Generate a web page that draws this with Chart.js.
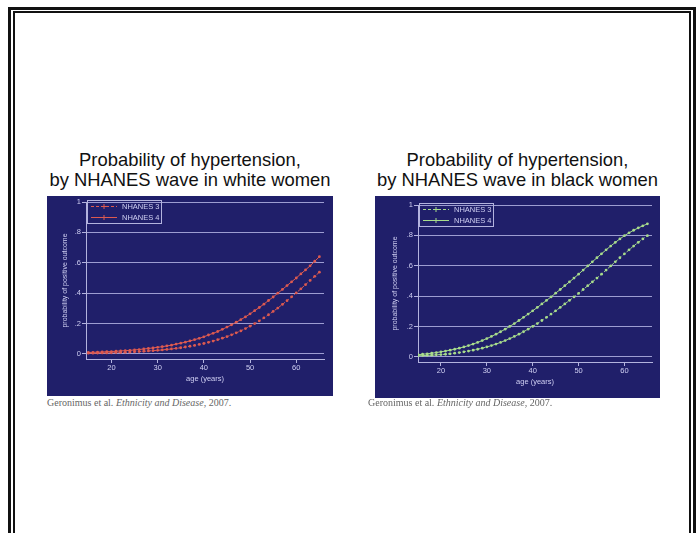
<!DOCTYPE html>
<html>
<head>
<meta charset="utf-8">
<script src="https://cdn.jsdelivr.net/npm/chart.js@4/dist/chart.umd.min.js"></script>
<style>
  body { margin: 0; width: 700px; height: 533px; background: #fff; overflow: hidden; position: relative; font-family: "Liberation Sans", Arial, sans-serif; }
  .frame-outer { position: absolute; left: 8px; top: 7px; width: 688px; height: 600px; border: 3px solid #111; box-sizing: border-box; }
  .frame-inner { position: absolute; left: 13px; top: 11px; width: 678px; height: 600px; border: 2px solid #111; box-sizing: border-box; }
  .title { position: absolute; top: 150px; font-size: 18.4px; line-height: 20px; color: #111; text-align: center; white-space: nowrap; }
  .panel { position: absolute; background: #201f6a; }
  .cite { position: absolute; top: 397px; font-family: "Liberation Serif", "Times New Roman", serif; font-size: 10px; color: #666; white-space: nowrap; }
</style>
</head>
<body>
<div class="frame-outer"></div>
<div class="frame-inner"></div>

<!-- left chart: white women -->
<div class="title" style="left:47px; width:286px;">Probability of hypertension,<br>by NHANES wave in white women</div>
<div class="panel" style="left:47px; top:196px; width:286px; height:200px;">
  <canvas id="chart-white" width="286" height="200"></canvas>
</div>
<div class="cite" style="left:47px;">Geronimus et al. <i>Ethnicity and Disease</i>, 2007.</div>

<!-- right chart: black women -->
<div class="title" style="left:375px; width:285px;">Probability of hypertension,<br>by NHANES wave in black women</div>
<div class="panel" style="left:375px; top:196px; width:285px; height:202px;">
  <canvas id="chart-black" width="285" height="202"></canvas>
</div>
<div class="cite" style="left:368px;">Geronimus et al. <i>Ethnicity and Disease</i>, 2007.</div>

<script>
  // ages 15..65, one point per year
  const ages = [15, 16, 17, 18, 19, 20, 21, 22, 23, 24,
    25, 26, 27, 28, 29, 30, 31, 32, 33, 34,
    35, 36, 37, 38, 39, 40, 41, 42, 43, 44,
    45, 46, 47, 48, 49, 50, 51, 52, 53, 54,
    55, 56, 57, 58, 59, 60, 61, 62, 63, 64, 65];

  const seriesLabels = ['NHANES 3', 'NHANES 4'];

  const whiteN3 = [0.005, 0.005, 0.006, 0.007, 0.007, 0.008, 0.009, 0.010, 0.011, 0.013,
    0.014, 0.016, 0.018, 0.020, 0.022, 0.024, 0.027, 0.030, 0.033, 0.037,
    0.041, 0.046, 0.051, 0.056, 0.063, 0.069, 0.077, 0.085, 0.094, 0.104,
    0.114, 0.126, 0.139, 0.152, 0.167, 0.183, 0.200, 0.218, 0.238, 0.258,
    0.280, 0.302, 0.326, 0.351, 0.376, 0.402, 0.429, 0.456, 0.484, 0.511, 0.538];
  const whiteN4 = [0.010, 0.011, 0.012, 0.013, 0.015, 0.016, 0.018, 0.020, 0.022, 0.024,
    0.027, 0.029, 0.033, 0.036, 0.040, 0.044, 0.048, 0.053, 0.058, 0.065,
    0.071, 0.078, 0.086, 0.094, 0.103, 0.113, 0.125, 0.136, 0.148, 0.162,
    0.177, 0.192, 0.209, 0.226, 0.244, 0.264, 0.285, 0.306, 0.328, 0.352,
    0.375, 0.400, 0.425, 0.450, 0.475, 0.500, 0.527, 0.553, 0.580, 0.610, 0.640];

  const blackN3 = [0.008, 0.009, 0.011, 0.012, 0.014, 0.016, 0.018, 0.021, 0.025, 0.029,
    0.034, 0.039, 0.045, 0.051, 0.058, 0.066, 0.075, 0.085, 0.096, 0.108,
    0.121, 0.135, 0.150, 0.166, 0.183, 0.201, 0.220, 0.240, 0.261, 0.282,
    0.304, 0.326, 0.349, 0.372, 0.395, 0.418, 0.444, 0.469, 0.494, 0.519,
    0.545, 0.572, 0.599, 0.626, 0.653, 0.679, 0.705, 0.730, 0.754, 0.777, 0.798];
  const blackN4 = [0.015, 0.018, 0.021, 0.025, 0.029, 0.034, 0.039, 0.045, 0.051, 0.058,
    0.066, 0.075, 0.085, 0.096, 0.108, 0.121, 0.135, 0.150, 0.166, 0.183,
    0.201, 0.220, 0.240, 0.261, 0.282, 0.304, 0.326, 0.349, 0.372, 0.395,
    0.420, 0.444, 0.469, 0.494, 0.519, 0.545, 0.572, 0.599, 0.626, 0.653,
    0.679, 0.705, 0.730, 0.754, 0.777, 0.798, 0.817, 0.834, 0.849, 0.863, 0.876];

  const yTickValues = [0, 0.2, 0.4, 0.6, 0.8, 1];
  const xTickValues = [20, 30, 40, 50, 60];

  const gridColor = '#9d9dd2';
  const axisColor = '#b3b3de';
  const textColor = '#cfcff2';
  const fontFamily = '"Liberation Sans", Arial, sans-serif';

  // Stata-style legend sitting in the top-left corner of the plot
  const insideLegend = {
    id: 'insideLegend',
    afterDatasetsDraw(chart) {
      const { ctx, chartArea: ca } = chart;
      const x0 = Math.round(ca.left), y0 = Math.round(ca.top);
      ctx.save();
      ctx.lineWidth = 1;
      ctx.strokeStyle = axisColor;
      ctx.strokeRect(x0 + 1.5, y0 - 1.5, 74, 23);
      ctx.font = '7.5px ' + fontFamily;
      ctx.textBaseline = 'middle';
      chart.data.datasets.forEach((ds, i) => {
        const y = y0 + 4.5 + i * 11;
        ctx.strokeStyle = ds.borderColor;
        ctx.setLineDash(ds.borderDash || []);
        ctx.beginPath(); ctx.moveTo(x0 + 5, y); ctx.lineTo(x0 + 31, y); ctx.stroke();
        ctx.setLineDash([]);
        ctx.beginPath();
        ctx.moveTo(x0 + 18, y - 2.5); ctx.lineTo(x0 + 18, y + 2.5);
        ctx.moveTo(x0 + 15.5, y); ctx.lineTo(x0 + 20.5, y);
        ctx.stroke();
        ctx.fillStyle = textColor;
        ctx.fillText(ds.label, x0 + 36, y);
      });
      ctx.restore();
    }
  };

  function makeChart(id, n3, n4, color, pad, yWidth, xHeight, xMin, xMax) {
    const base = {
      borderColor: color,
      borderWidth: 1,
      pointRadius: 1.4,
      pointStyle: 'circle',
      pointBackgroundColor: color,
      pointBorderWidth: 0,
      fill: false,
      tension: 0
    };
    return new Chart(document.getElementById(id), {
      type: 'line',
      data: {
        datasets: [
          Object.assign({ label: seriesLabels[0], borderDash: [3, 2], data: ages.map((a, i) => ({ x: a, y: n3[i] })) }, base),
          Object.assign({ label: seriesLabels[1], data: ages.map((a, i) => ({ x: a, y: n4[i] })) }, base)
        ]
      },
      options: {
        responsive: false,
        animation: false,
        devicePixelRatio: 1,
        layout: { padding: pad },
        scales: {
          x: {
            type: 'linear',
            min: xMin,
            max: xMax,
            afterBuildTicks: s => { s.ticks = xTickValues.map(v => ({ value: v })); },
            afterFit: s => { s.height = xHeight; },
            grid: { drawOnChartArea: false, color: axisColor, tickLength: 4 },
            border: { color: axisColor },
            ticks: { color: textColor, padding: 0, maxRotation: 0, font: { family: fontFamily, size: 7.5 } },
            title: { display: true, text: 'age (years)', color: textColor, font: { family: fontFamily, size: 7.5 } }
          },
          y: {
            min: -0.033,
            max: 1,
            afterBuildTicks: s => { s.ticks = yTickValues.map(v => ({ value: v })); },
            afterFit: s => { s.width = yWidth; },
            grid: { color: gridColor, tickColor: axisColor, tickLength: 4 },
            border: { color: axisColor },
            ticks: {
              color: textColor, padding: 1, font: { family: fontFamily, size: 7.5 },
              callback: v => (v === 0 || v === 1) ? String(v) : String(v).replace(/^0/, '')
            },
            title: { display: true, text: 'probability of positive outcome', color: textColor, font: { family: fontFamily, size: 7 } }
          }
        },
        plugins: {
          tooltip: { enabled: false },
          legend: { display: false }
        }
      },
      plugins: [insideLegend]
    });
  }

  makeChart('chart-white', whiteN3, whiteN4, '#dd5a50', { left: 10, top: 6, right: 9, bottom: 9 }, 29, 28, 14.5, 66);
  makeChart('chart-black', blackN3, blackN4, '#a8dc8c', { left: 12, top: 9, right: 8, bottom: 8 }, 31, 28, 15, 66);
</script>
</body>
</html>
